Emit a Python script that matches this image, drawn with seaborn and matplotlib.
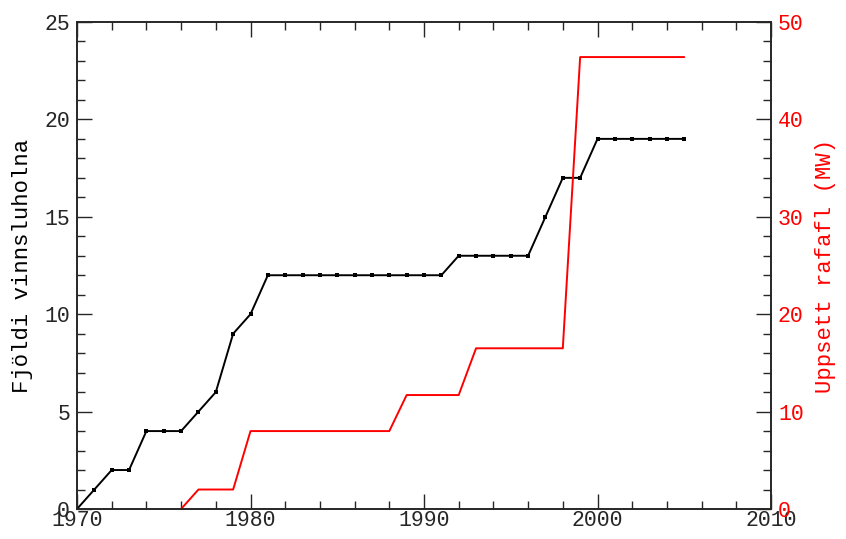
import matplotlib
matplotlib.use("Agg")
import matplotlib.pyplot as plt
from matplotlib.ticker import MultipleLocator
import seaborn as sns
import pandas as pd

years = list(range(1970, 2006))
holes = [0, 1, 2, 2, 4, 4, 4, 5, 6, 9, 10,
         12, 12, 12, 12, 12, 12, 12, 12, 12, 12, 12,
         13, 13, 13, 13, 13, 15, 17, 17,
         19, 19, 19, 19, 19, 19]
power_years = list(range(1976, 2006))
power_mw = [0, 2, 2, 2, 8, 8, 8, 8, 8, 8, 8, 8, 8,
            11.7, 11.7, 11.7, 11.7, 16.5, 16.5, 16.5, 16.5, 16.5, 16.5,
            46.4, 46.4, 46.4, 46.4, 46.4, 46.4, 46.4]

df_h = pd.DataFrame({"year": years, "holes": holes})
df_p = pd.DataFrame({"year": power_years, "mw": power_mw})

sns.set_style("ticks")
plt.rcParams['font.family'] = ['Liberation Mono', 'DejaVu Sans Mono']

fig = plt.figure(figsize=(8.46, 5.39), dpi=100)
ax = fig.add_axes([77/846, 30/539, 694/846, 487/539])
ax2 = ax.twinx()

sns.lineplot(data=df_h, x="year", y="holes", ax=ax, color="black",
             linewidth=1.4, marker="s", markersize=3, markeredgewidth=0)
sns.lineplot(data=df_p, x="year", y="mw", ax=ax2, color="red",
             linewidth=1.4)

ax.set_xlim(1970, 2010)
ax.set_ylim(0, 25)
ax2.set_ylim(0, 50)
ax.set_xlabel("")
ax.set_ylabel("Fjöldi vinnsluholna", fontsize=16, color="black", labelpad=8)
ax2.set_ylabel("Uppsett rafafl (MW)", fontsize=16, color="red", labelpad=8)

ax.xaxis.set_major_locator(MultipleLocator(10))
ax.xaxis.set_minor_locator(MultipleLocator(2))
ax.yaxis.set_major_locator(MultipleLocator(5))
ax.yaxis.set_minor_locator(MultipleLocator(1))
ax2.yaxis.set_major_locator(MultipleLocator(10))
ax2.yaxis.set_minor_locator(MultipleLocator(2))

ax.tick_params(axis="x", which="both", direction="in", top=True, bottom=True,
               labelsize=15.5, pad=1)
ax.tick_params(axis="y", which="both", direction="in", left=True, right=False,
               labelsize=15.5, pad=5)
ax.tick_params(which="major", length=11, width=1)
ax.tick_params(which="minor", length=6, width=1)
ax2.tick_params(axis="y", which="both", direction="in", labelsize=15.5,
                labelcolor="red", pad=5)
ax2.tick_params(which="major", length=11, width=1)
ax2.tick_params(which="minor", length=6, width=1)

for a in (ax, ax2):
    for s in a.spines.values():
        s.set_linewidth(1.2)
        s.set_visible(True)

fig.savefig("out.png", dpi=100)
